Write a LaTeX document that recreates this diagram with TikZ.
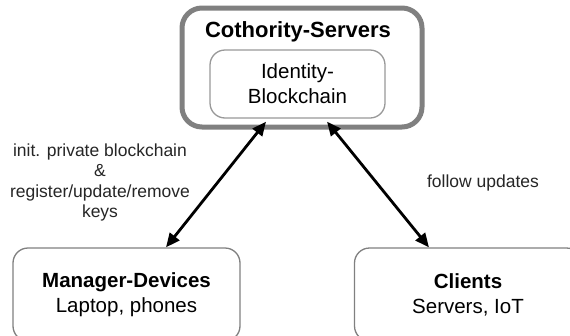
\documentclass[tikz,border=0pt]{standalone}
\usepackage{fontspec}
\setmainfont{Liberation Sans}
\usetikzlibrary{arrows.meta}
\begin{document}
\begin{tikzpicture}[x=1pt,y=-1pt,
  bigbox/.style={draw=black!50, line width=5pt, rounded corners=20pt, minimum width=240pt, minimum height=119pt, inner sep=0pt},
  innerbox/.style={draw=black!40, line width=1.3pt, rounded corners=15pt, minimum width=175pt, minimum height=68pt, align=center, inner sep=0pt, font=\fontsize{20.5}{25}\selectfont},
  devbox/.style={draw=black!50, line width=1.3pt, rounded corners=15pt, minimum width=227pt, minimum height=93pt, align=center, inner sep=0pt, font=\fontsize{20.5}{25}\selectfont},
  title/.style={font=\fontsize{22}{26}\selectfont\bfseries},
  lbl/.style={align=center, font=\fontsize{17.5}{20.5}\selectfont, text=black!85},
  conn/.style={line width=2.8pt, {Triangle[length=14pt,width=12pt]}-{Triangle[length=14pt,width=12pt]}}
]
\useasboundingbox (0,0) rectangle (570,335);
\clip (0,0) rectangle (570,335);
\fill[white] (0,0) rectangle (570,335);
\node[bigbox] (outer) at (302,67.5) {};
\node[title] (ttl) at (298,32) {Cothority-Servers};
\node[innerbox] (inner) at (297.5,84) {Identity-\\Blockchain};
\node[devbox] (mgr) at (126.5,294.5) {\textbf{Manager-Devices}\\Laptop, phones};
\node[devbox] (cli) at (468,294.5) {\textbf{Clients}\\Servers, IoT};
\coordinate (c1) at (166,0);
\coordinate (c2) at (266,0);
\coordinate (c3) at (429,0);
\coordinate (c4) at (327,0);
\draw[conn] (mgr.north -| c1) -- ([yshift=-3pt]inner.south -| c2);
\draw[conn] (cli.north -| c3) -- ([yshift=-3pt]inner.south -| c4);
\node[lbl] (l1) at (100,182.5) {init. private blockchain\\\&\\register/update/remove\\keys};
\node[lbl] (l2) at (483,183) {follow updates};
\end{tikzpicture}
\end{document}
